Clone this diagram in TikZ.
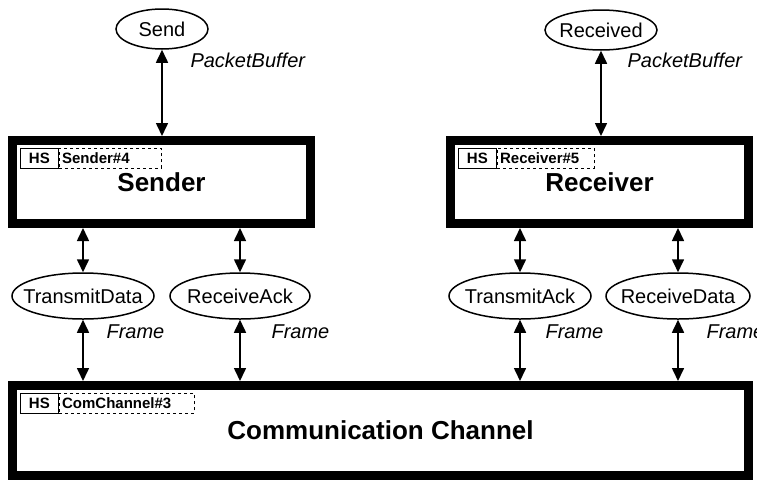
\documentclass[tikz,border=0pt]{standalone}
\usepackage{fontspec}
\setmainfont{Liberation Sans}
\usetikzlibrary{arrows.meta,shapes.geometric}
\newcommand{\placetext}[1]{\makebox[0pt]{#1}}

\begin{document}
\begin{tikzpicture}[x=1pt,y=-1pt,
		place/.style={ellipse,draw,line width=1.5pt,inner sep=0pt,minimum height=46pt,
			font=\fontsize{20}{24}\selectfont},
		subpage/.style={draw,line width=9pt,inner sep=0pt,minimum height=83pt,
			font=\bfseries\fontsize{26}{30}\selectfont},
		hstag/.style={draw,line width=0.8pt,inner sep=0pt,minimum width=38pt,minimum height=20pt,
			anchor=north west,font=\bfseries\fontsize{15}{17}\selectfont},
		pagetag/.style={draw,dash pattern=on 3pt off 3pt,line width=0.6pt,inner xsep=3pt,inner ysep=0pt,
			minimum height=20pt,align=left,anchor=north west,font=\bfseries\fontsize{15}{17}\selectfont},
		inscr/.style={anchor=west,font=\itshape\fontsize{20}{24}\selectfont},
		arc/.style={{Triangle[length=13pt,width=12pt]}-{Triangle[length=13pt,width=12pt]},line width=1.6pt}]
	\useasboundingbox (0,0) rectangle (757,480);
	
	% TOP: packet places
	\node[place,minimum width=92pt,minimum height=40pt] (send) at (162,29) {\placetext{Send}};
	\node[place,minimum width=112pt,minimum height=40pt] (received) at (601,30) {\placetext{Received}};
	\node[inscr] (sendcs) at (187,60) {PacketBuffer};
	\node[inscr] (receivedcs) at (624,60) {PacketBuffer};
	
	% MIDDLE: substitution transitions
	\node[subpage,minimum width=298pt] (sender) at (161.5,182) {Sender};
	\node[subpage,minimum width=298pt] (receiver) at (599.5,182) {Receiver};
	\node[hstag] (senderhs) at ([shift={(12,12)}]sender.north west) {HS};
	\node[pagetag,text width=96pt] (sendertag) at (senderhs.north east) {Sender\#4};
	\node[hstag] (receiverhs) at ([shift={(12,12)}]receiver.north west) {HS};
	\node[pagetag,text width=91pt] (receivertag) at (receiverhs.north east) {Receiver\#5};
	
	% frame places
	\node[place,minimum width=142pt] (tdata) at (83,296) {\placetext{TransmitData}};
	\node[place,minimum width=140pt] (rack) at (240,296) {\placetext{ReceiveAck}};
	\node[place,minimum width=142pt] (tack) at (520,296) {\placetext{TransmitAck}};
	\node[place,minimum width=144pt] (rdata) at (678,296) {\placetext{ReceiveData}};
	\foreach \p/\x in {tdata/103,rack/268,tack/542,rdata/703}{
		\node[inscr] (\p cs) at (\x,332) {Frame};
	}
	
	% BOTTOM: channel
	\node[subpage,minimum width=736pt,minimum height=90pt] (channel) at (380.5,430.5) {Communication Channel};
	\node[hstag] (channelhs) at ([shift={(12,12)}]channel.north west) {HS};
	\node[pagetag,text width=129pt] (channeltag) at (channelhs.north east) {ComChannel\#3};
	
	% arcs
	\draw[arc] (send.south) -- (send.south |- sender.north);
	\draw[arc] (received.south) -- (received.south |- receiver.north);
	\foreach \p/\t in {tdata/sender,rack/sender,tack/receiver,rdata/receiver}{
		\draw[arc] (\p.north |- \t.south) -- (\p.north);
		\draw[arc] (\p.south) -- (\p.south |- channel.north);
	}
\end{tikzpicture}
\end{document}
